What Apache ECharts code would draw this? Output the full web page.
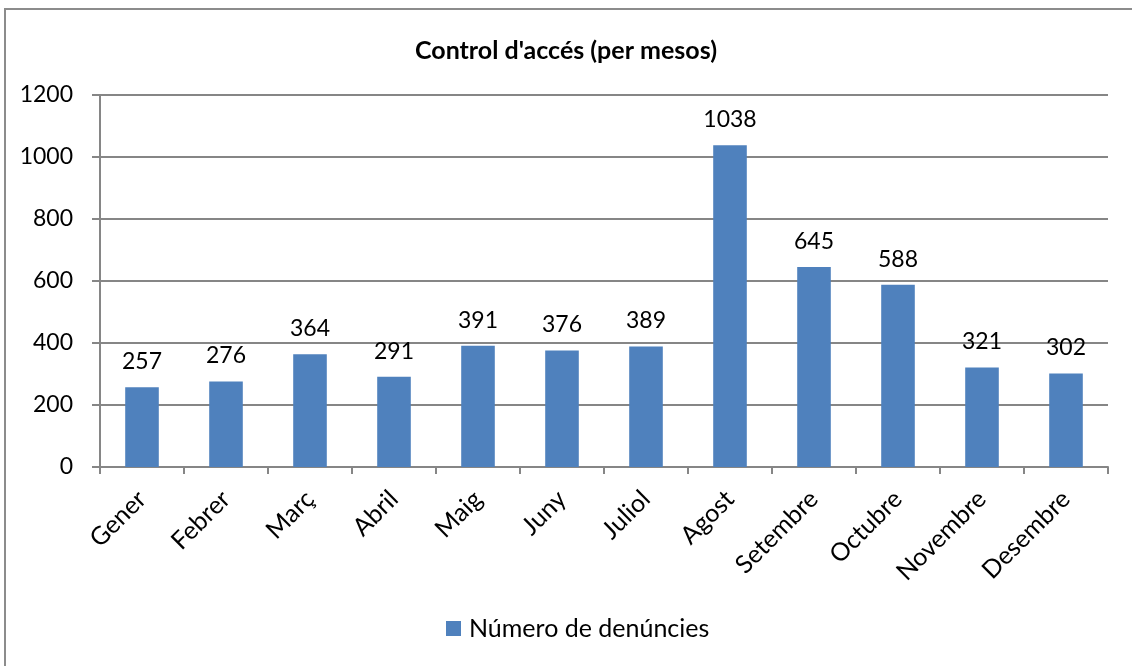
<!DOCTYPE html>
<html>
<head>
<meta charset="utf-8">
<script src="https://cdn.jsdelivr.net/npm/echarts@6/dist/echarts.min.js"></script>
<style>
  html, body { margin: 0; padding: 0; background: #fff; }
  #frame {
    position: absolute; left: 4px; top: 8px;
    width: 1140px; height: 680px;
    border: 2px solid #8c8c8c; box-sizing: border-box;
  }
  #chart { position: absolute; left: 0; top: 0; width: 1132px; height: 666px; }
</style>
</head>
<body>
<div id="frame"></div>
<div id="chart"></div>
<script>
// mesos i valors
const months = ['Gener', 'Febrer', 'Març', 'Abril', 'Maig', 'Juny', 'Juliol', 'Agost', 'Setembre', 'Octubre', 'Novembre', 'Desembre'];
const denuncies = [257, 276, 364, 291, 391, 376, 389, 1038, 645, 588, 321, 302];
const seriesName = 'Número de denúncies';
const titleText = "Control d'accés (per mesos)";

const FONT = 'Lato, "Open Sans", sans-serif';
const chart = echarts.init(document.getElementById('chart'));

chart.setOption({
  animation: false,
  backgroundColor: 'transparent',
  title: {
    text: titleText,
    left: 'center',
    top: 33,
    textStyle: { fontFamily: FONT, fontSize: 25, fontWeight: 'bold', color: '#000' }
  },
  legend: {
    bottom: 20,
    left: 441,
    itemWidth: 15,
    itemHeight: 15,
    itemGap: 6,
    icon: 'rect',
    textStyle: { fontFamily: FONT, fontSize: 25, color: '#000', padding: [0, 0, 0, 3] },
    data: [seriesName]
  },
  grid: { left: 100, right: 24, top: 95, bottom: 199 },
  xAxis: {
    type: 'category',
    data: months,
    axisLine: { lineStyle: { color: '#868686', width: 2 } },
    axisTick: { show: true, length: 7, lineStyle: { color: '#868686', width: 2 } },
    axisLabel: { rotate: 45, fontFamily: FONT, fontSize: 25, color: '#000', margin: 28 }
  },
  yAxis: {
    type: 'value',
    min: 0,
    max: 1200,
    interval: 200,
    axisLine: { show: true, lineStyle: { color: '#868686', width: 2 } },
    axisTick: { show: true, length: 8, lineStyle: { color: '#868686', width: 2 } },
    splitLine: { lineStyle: { color: '#868686', width: 2 } },
    axisLabel: {
      fontFamily: FONT, fontSize: 23, color: '#000', margin: 27,
      formatter: v => String(v)
    }
  },
  series: [{
    name: seriesName,
    type: 'bar',
    data: denuncies,
    barWidth: '40%',
    itemStyle: { color: '#4f81bd' },
    label: {
      show: true,
      position: 'top',
      distance: 14,
      fontFamily: FONT,
      fontSize: 23,
      color: '#000'
    }
  }]
});
</script>
</body>
</html>
